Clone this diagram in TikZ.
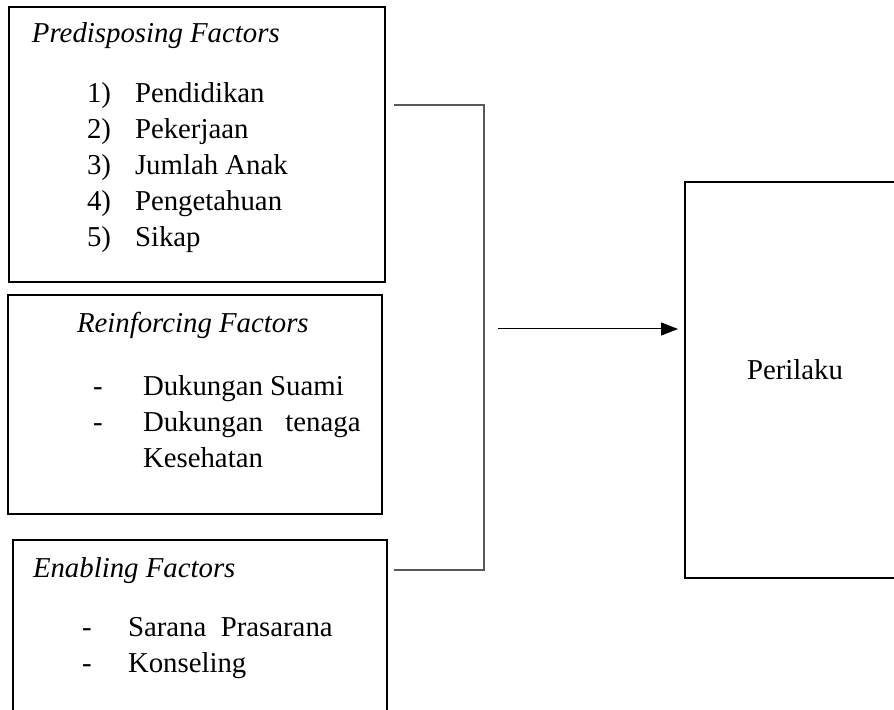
\documentclass[tikz,border=0pt]{standalone}
\usepackage{fontspec}
\setmainfont{Liberation Serif}
\usetikzlibrary{arrows.meta}
\begin{document}
\begin{tikzpicture}[x=0.5pt,y=-0.5pt,
  font=\fontsize{14.4pt}{18pt}\selectfont,
  box/.style={draw=black,line width=1.3pt,inner sep=0pt,outer sep=0pt,anchor=north west},
  lbl/.style={anchor=base west,inner sep=0pt,outer sep=0pt},
  conn/.style={draw=black!65,line width=0.6pt},
  arr/.style={draw=black,line width=0.5pt,-{Triangle[length=8.5pt,width=6.5pt]}}]
\useasboundingbox (0,0) rectangle (894,710);
\clip (0,0) rectangle (894,710);
% boxes
\node[box,minimum width=188pt,minimum height=137.5pt] (b1) at (9,7) {};
\node[box,minimum width=187pt,minimum height=109.5pt] (b2) at (8,295) {};
\node[box,minimum width=187pt,minimum height=120pt] (b3) at (13,540) {};
\node[box,minimum width=140pt,minimum height=198pt] (b4) at (685,182) {};
% box 1 text
\node[lbl] (t1) at (32,43) {\textit{Predisposing Factors}};
\node[lbl] (n1) at (87,103) {1)}; \node[lbl] (i1) at (135,103) {Pendidikan};
\node[lbl] (n2) at (87,139) {2)}; \node[lbl] (i2) at (135,139) {Pekerjaan};
\node[lbl] (n3) at (87,175) {3)}; \node[lbl] (i3) at (135,175) {Jumlah Anak};
\node[lbl] (n4) at (87,211) {4)}; \node[lbl] (i4) at (135,211) {Pengetahuan};
\node[lbl] (n5) at (87,247) {5)}; \node[lbl] (i5) at (135,247) {Sikap};
% box 2 text
\node[lbl] (t2) at (77,333) {\textit{Reinforcing Factors}};
\node[lbl] (d1) at (93,396) {-}; \node[lbl] (r1) at (143,396) {Dukungan Suami};
\node[lbl] (d2) at (93,432) {-}; \node[lbl] (r2a) at (143,432) {Dukungan};
\node[anchor=base east,inner sep=0pt] (r2b) at (361,432) {tenaga};
\node[lbl] (r3) at (143,468) {Kesehatan};
% box 3 text
\node[lbl] (t3) at (33,578) {\textit{Enabling Factors}};
\node[lbl] (e1d) at (82,636) {-}; \node[lbl] (e1) at (128,636) {Sarana\ \ Prasarana};
\node[lbl] (e2d) at (82,672) {-}; \node[lbl] (e2) at (128,672) {Konseling};
% perilaku
\node[lbl] (p) at (747,380) {Perilaku};
% bracket
\coordinate (c1) at (394,105);
\coordinate (c2) at (484,105);
\coordinate (c3) at (484,570);
\coordinate (c4) at (394,570);
\draw[conn] (c1) -- (c2) -- (c3) -- (c4);
% arrow
\coordinate (a1) at (498,329);
\coordinate (a2) at (678,329);
\draw[arr] (a1) -- (a2);
\end{tikzpicture}
\end{document}
